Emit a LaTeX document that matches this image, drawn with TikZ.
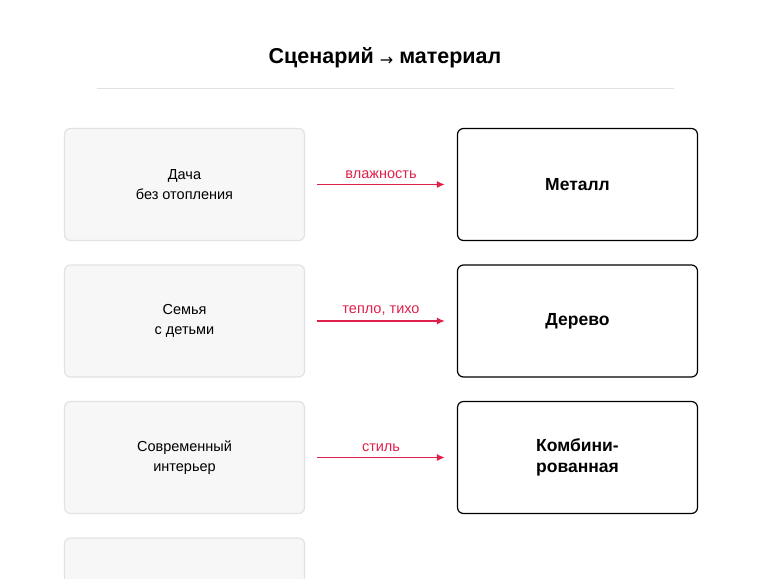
\documentclass[tikz,border=0pt]{standalone}
\usepackage{fontspec}
\setmainfont{Liberation Sans}
\newfontfamily\arrowfont{DejaVu Sans}
\usetikzlibrary{positioning,arrows.meta}
\definecolor{accent}{HTML}{E0204A}
\definecolor{cardfill}{HTML}{F7F7F7}
\definecolor{cardline}{HTML}{E2E2E2}
\tikzset{
  scenario/.style={draw=cardline,line width=1.2pt,fill=cardfill,rounded corners=6pt,minimum width=240pt,minimum height=112pt,align=center,font=\fontsize{14.5}{19.5}\selectfont},
  material/.style={draw=black,line width=1.2pt,fill=white,rounded corners=6pt,minimum width=240pt,minimum height=112pt,align=center,font=\fontsize{17.5}{21}\selectfont\bfseries},
  link/.style={draw=accent,line width=1.4pt,-{Latex[length=8pt,width=7pt]},shorten <=12pt,shorten >=12pt},
  reason/.style={above=2pt,text=accent,font=\fontsize{14.5}{17}\selectfont}
}
\begin{document}
\begin{tikzpicture}[x=1pt,y=-1pt]
  \useasboundingbox (0,0) rectangle (770,578);
  \clip (0,0) rectangle (770,578);
  \node[font=\fontsize{21.5}{25}\selectfont\bfseries] (title) at (385,58) {Сценарий {\arrowfont\mdseries\fontsize{16}{20}\selectfont\raisebox{-2pt}{→}} материал};
  \draw[cardline] (97,88) -- (674,88);
  % scenarios
  \node[scenario] (s1) at (184.5,184.5) {Дача\\без отопления};
  \node[scenario] (s2) at (184.5,321) {Семья\\с детьми};
  \node[scenario] (s3) at (184.5,457.5) {Современный\\интерьер};
  \node[scenario] (s4) at (184.5,594) {};
  % materials
  \node[material] (m1) at (577.5,184.5) {Металл};
  \node[material] (m2) at (577.5,321) {Дерево};
  \node[material] (m3) at (577.5,457.5) {Комбини-\\рованная};
  % links
  \draw[link] (s1) -- node[reason] {влажность} (m1);
  \draw[link] (s2) -- node[reason] {тепло, тихо} (m2);
  \draw[link] (s3) -- node[reason] {стиль} (m3);
\end{tikzpicture}
\end{document}
